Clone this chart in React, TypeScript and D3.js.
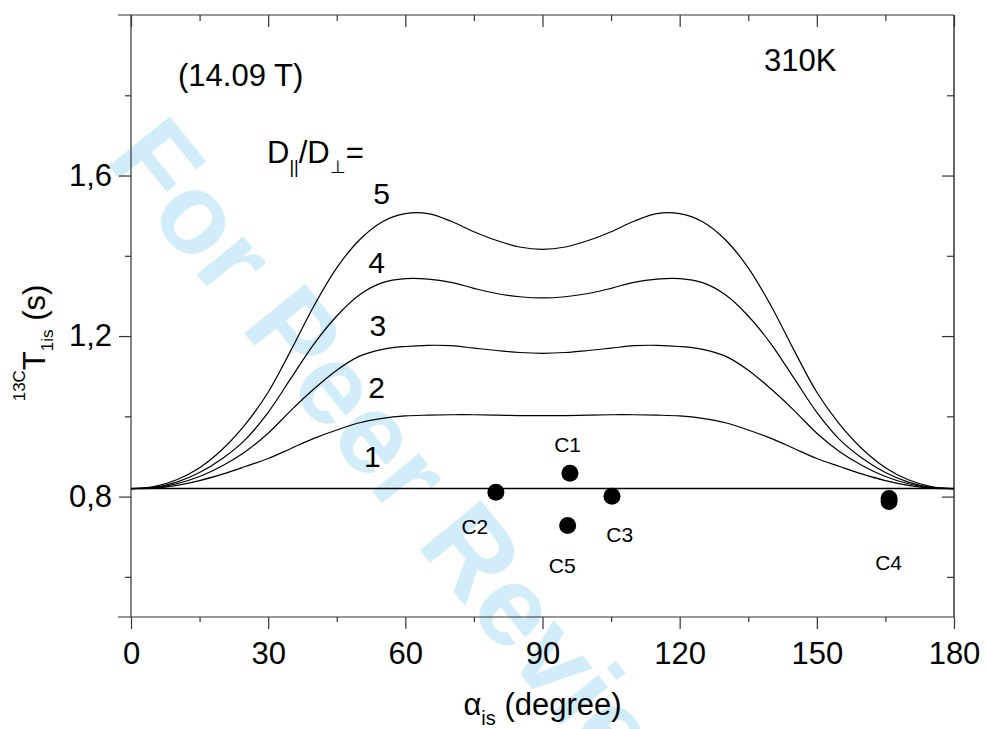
import { useEffect, useRef } from 'react'
import * as d3 from 'd3'

// 13C T1 vs alpha_is for several D||/D_perp ratios (14.09 T, 310K)
const alphaGrid = [0, 5, 10, 15, 20, 25, 30, 35, 40, 45, 50, 55, 60, 65, 70, 75, 80, 85, 90,
  95, 100, 105, 110, 115, 120, 125, 130, 135, 140, 145, 150, 155, 160, 165, 170, 175, 180]

const ratio5 = [0.820, 0.825, 0.842, 0.872, 0.918, 0.980, 1.060, 1.165, 1.275, 1.370, 1.440, 1.485, 1.505, 1.505, 1.486, 1.460, 1.438, 1.422, 1.416,
  1.422, 1.438, 1.460, 1.486, 1.505, 1.505, 1.485, 1.440, 1.370, 1.275, 1.165, 1.060, 0.980, 0.918, 0.872, 0.842, 0.825, 0.820]
const ratio4 = [0.820, 0.823, 0.836, 0.860, 0.895, 0.942, 1.010, 1.095, 1.180, 1.250, 1.303, 1.333, 1.343, 1.342, 1.334, 1.319, 1.306, 1.298, 1.295,
  1.298, 1.306, 1.319, 1.334, 1.342, 1.343, 1.333, 1.303, 1.250, 1.180, 1.095, 1.010, 0.942, 0.895, 0.860, 0.836, 0.823, 0.820]
const ratio3 = [0.820, 0.822, 0.832, 0.850, 0.877, 0.912, 0.958, 1.015, 1.068, 1.115, 1.150, 1.167, 1.174, 1.177, 1.176, 1.170, 1.164, 1.159, 1.157,
  1.159, 1.164, 1.170, 1.176, 1.177, 1.174, 1.167, 1.150, 1.115, 1.068, 1.015, 0.958, 0.912, 0.877, 0.850, 0.832, 0.822, 0.820]
const ratio2 = [0.820, 0.821, 0.828, 0.840, 0.856, 0.875, 0.895, 0.920, 0.945, 0.966, 0.984, 0.995, 1.001, 1.003, 1.004, 1.004, 1.003, 1.002, 1.002,
  1.002, 1.003, 1.004, 1.004, 1.003, 1.001, 0.995, 0.984, 0.966, 0.945, 0.920, 0.895, 0.875, 0.856, 0.840, 0.828, 0.821, 0.820]
// isotropic case is flat
const ratio1Alpha = [0, 180]
const ratio1Values = [0.82, 0.82]

// curve labels (1..5)
const ratioNames = ['1', '2', '3', '4', '5']
const ratioLabelAlpha = [52.8, 53.7, 54.0, 53.7, 54.8]
const ratioLabelT1 = [0.875, 1.046, 1.200, 1.357, 1.530]

// measured carbons
const pointAlpha = [96.0, 79.8, 105.2, 165.8, 165.8, 95.5]
const pointT1 = [0.858, 0.811, 0.801, 0.795, 0.788, 0.728]
const siteNames = ['C1', 'C2', 'C3', 'C4', 'C5']
const siteLabelAlpha = [95.5, 75.2, 106.9, 165.7, 94.3]
const siteLabelT1 = [0.910, 0.707, 0.686, 0.618, 0.610]

const xMajor = [0, 30, 60, 90, 120, 150, 180]
const xMinor = [15, 45, 75, 105, 135, 165]
const yMajor = [0.8, 1.2, 1.6]
const yMinor = [0.6, 1.0, 1.4, 1.8]

const FONT = '"Liberation Sans", Arial, Helvetica, sans-serif'

export default function App() {
  const svgRef = useRef<SVGSVGElement | null>(null)

  useEffect(() => {
    if (!svgRef.current) return
    const root = d3.select(svgRef.current)
    root.selectAll('*').remove()

    const W = 986
    const H = 729
    const left = 131, right = 954, top = 15, bottom = 617

    root.attr('width', W).attr('height', H)

    const x = d3.scaleLinear().domain([0, 180]).range([left, right])
    const y = d3.scaleLinear().domain([0.5, 2.0]).range([bottom, top])

    // watermark
    root.append('text')
      .attr('transform', 'translate(104,160) rotate(51)')
      .attr('font-family', FONT)
      .attr('font-weight', 'bold')
      .attr('font-size', 114)
      .attr('fill', '#d2edfa')
      .text('For Peer Review')

    const g = root.append('g').attr('font-family', FONT)

    // frame
    const axisColor = '#333'
    g.append('line').attr('x1', left - 13).attr('x2', right).attr('y1', top).attr('y2', top)
      .attr('stroke', axisColor).attr('stroke-width', 1.2)
    g.append('line').attr('x1', left - 13).attr('x2', right).attr('y1', bottom).attr('y2', bottom)
      .attr('stroke', axisColor).attr('stroke-width', 1.2)
    g.append('line').attr('x1', left).attr('x2', left).attr('y1', top).attr('y2', bottom)
      .attr('stroke', axisColor).attr('stroke-width', 1.2)
    g.append('line').attr('x1', right).attr('x2', right).attr('y1', top).attr('y2', bottom)
      .attr('stroke', '#000').attr('stroke-width', 1.2)

    const styleAxis = (sel: any) => {
      sel.select('.domain').remove()
      sel.selectAll('line').attr('stroke', axisColor).attr('stroke-width', 1.2)
      sel.selectAll('text').attr('font-family', FONT).attr('font-size', 31).attr('fill', '#000')
    }

    // bottom (outward) ticks
    g.append('g').attr('transform', `translate(0,${bottom})`)
      .call(d3.axisBottom(x).tickValues(xMajor).tickSize(12).tickPadding(13).tickFormat(d3.format('d')))
      .call(styleAxis)
    g.append('g').attr('transform', `translate(0,${bottom})`)
      .call(d3.axisBottom(x).tickValues(xMinor).tickSize(5).tickFormat(() => ''))
      .call(styleAxis)
    // top (inward) ticks
    g.append('g').attr('transform', `translate(0,${top})`)
      .call(d3.axisBottom(x).tickValues(xMajor).tickSize(12).tickFormat(() => ''))
      .call(styleAxis)
    g.append('g').attr('transform', `translate(0,${top})`)
      .call(d3.axisBottom(x).tickValues(xMinor).tickSize(6).tickFormat(() => ''))
      .call(styleAxis)
    // left (outward) ticks
    g.append('g').attr('transform', `translate(${left},0)`)
      .call(d3.axisLeft(y).tickValues(yMajor).tickSize(12).tickPadding(7)
        .tickFormat((d: any) => d.toFixed(1).replace('.', ',')))
      .call(styleAxis)
    g.append('g').attr('transform', `translate(${left},0)`)
      .call(d3.axisLeft(y).tickValues(yMinor).tickSize(6).tickFormat(() => ''))
      .call(styleAxis)
    // right (inward) ticks
    g.append('g').attr('transform', `translate(${right},0)`)
      .call(d3.axisLeft(y).tickValues(yMajor).tickSize(12).tickFormat(() => ''))
      .call(styleAxis)
    g.append('g').attr('transform', `translate(${right},0)`)
      .call(d3.axisLeft(y).tickValues(yMinor).tickSize(7).tickFormat(() => ''))
      .call(styleAxis)

    // curves
    const line = d3.line<[number, number]>()
      .x(d => x(d[0]))
      .y(d => y(d[1]))
      .curve(d3.curveCatmullRom.alpha(0.5))

    const series = [ratio2, ratio3, ratio4, ratio5]
    series.forEach(vals => {
      g.append('path')
        .datum(alphaGrid.map((a, i) => [a, vals[i]] as [number, number]))
        .attr('fill', 'none')
        .attr('stroke', '#000')
        .attr('stroke-width', 1.2)
        .attr('d', line)
    })
    g.append('path')
      .datum(ratio1Alpha.map((a, i) => [a, ratio1Values[i]] as [number, number]))
      .attr('fill', 'none')
      .attr('stroke', '#000')
      .attr('stroke-width', 1.6)
      .attr('d', line)

    // curve labels
    ratioNames.forEach((name, i) => {
      g.append('text')
        .attr('x', x(ratioLabelAlpha[i]))
        .attr('y', y(ratioLabelT1[i]))
        .attr('text-anchor', 'middle')
        .attr('font-size', 30)
        .text(name)
    })

    // data points
    g.selectAll('.pt')
      .data(pointAlpha.map((a, i) => [a, pointT1[i]]))
      .enter()
      .append('circle')
      .attr('class', 'pt')
      .attr('cx', d => x(d[0]))
      .attr('cy', d => y(d[1]))
      .attr('r', 8.5)
      .attr('fill', '#000')

    siteNames.forEach((name, i) => {
      g.append('text')
        .attr('x', x(siteLabelAlpha[i]))
        .attr('y', y(siteLabelT1[i]))
        .attr('text-anchor', 'middle')
        .attr('font-size', 21)
        .text(name)
    })

    // annotations
    g.append('text').attr('x', 178).attr('y', 86).attr('font-size', 31).text('(14.09 T)')
    g.append('text').attr('x', 764).attr('y', 71).attr('font-size', 31).text('310K')

    const ratioTitle = g.append('text').attr('x', 267).attr('y', 163).attr('font-size', 31)
    ratioTitle.append('tspan').text('D')
    ratioTitle.append('tspan').attr('font-size', 18).attr('dy', 10).text('||')
    ratioTitle.append('tspan').attr('dy', -10).text('/D')
    ratioTitle.append('tspan').attr('font-size', 18).attr('dy', 10).text('⊥')
    ratioTitle.append('tspan').attr('dy', -10).text('=')

    // x axis title
    const xTitle = g.append('text')
      .attr('x', (left + right) / 2)
      .attr('y', 715)
      .attr('text-anchor', 'middle')
      .attr('font-size', 31)
    xTitle.append('tspan').text('α')
    xTitle.append('tspan').attr('font-size', 20).attr('dy', 10).text('is')
    xTitle.append('tspan').attr('dy', -10).text(' (degree)')

    // y axis title
    const yTitle = g.append('text')
      .attr('transform', 'translate(45,343) rotate(-90)')
      .attr('text-anchor', 'middle')
      .attr('font-size', 31)
    yTitle.append('tspan').attr('font-size', 17).attr('dy', -20).text('13C')
    yTitle.append('tspan').attr('dy', 20).text('T')
    yTitle.append('tspan').attr('font-size', 17).attr('dy', 8).text('1is')
    yTitle.append('tspan').attr('dy', -8).text(' (s)')
  }, [])

  return (
    <svg
      ref={svgRef}
      style={{ position: 'fixed', left: 0, top: 0, background: '#fff' }}
    />
  )
}
